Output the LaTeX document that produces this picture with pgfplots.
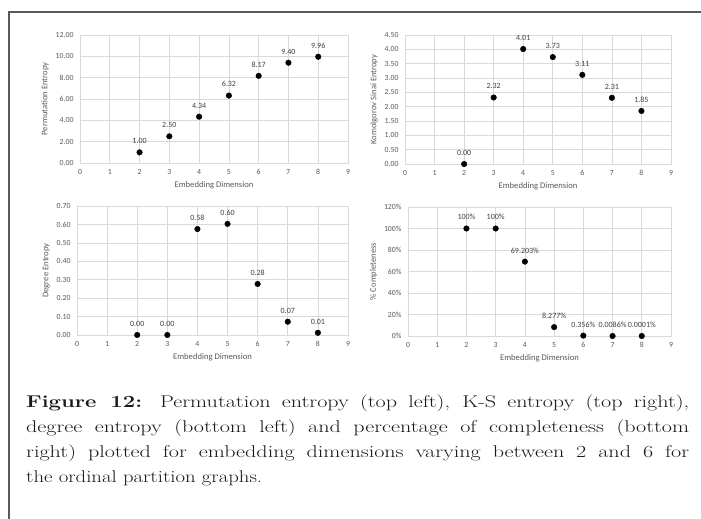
\documentclass[border=0pt]{standalone}
\usepackage{fontspec}
\usepackage{graphicx}
\usepackage{pgfplots}
\pgfplotsset{compat=1.18}

\newfontfamily\chartfont{Carlito}
\definecolor{gridc}{HTML}{D9D9D9}
\definecolor{labc}{HTML}{595959}
\definecolor{datac}{HTML}{404040}
\definecolor{framec}{HTML}{5A5A5A}

\pgfplotsset{
  excel/.style={
    scale only axis, anchor=south west,
    xmin=0, xmax=9, xtick={0,...,9},
    grid=major, grid style={draw=gridc, line width=0.7pt},
    axis line style={draw=gridc, line width=0.7pt},
    major tick length=0pt,
    tick label style={font=\chartfont\fontsize{7.8}{9}\selectfont, text=labc},
    /pgf/number format/assume math mode=true,
    xticklabel style={yshift=-3pt},
    yticklabel style={xshift=-3pt},
    label style={font=\chartfont\fontsize{8.6}{10}\selectfont, text=labc},
    xlabel={Embedding Dimension},
    clip=false,
    nodes near coords,
    point meta=explicit symbolic,
    every node near coord/.append style={font=\chartfont\fontsize{8}{9}\selectfont,
      text=datac, yshift=5pt},
  },
  dot/.style={only marks, mark=*, mark size=2.8pt, mark options={fill=black, draw=black}},
  twodec/.style={yticklabel style={/pgf/number format/.cd, fixed, fixed zerofill, precision=2}},
}

% caption lines: glyphs widened a little, spaces stretched to the full width
\newcommand\capline[1]{\scalebox{1.3}[1]{\makebox[510pt][s]{#1}}}

\begin{document}
\begin{tikzpicture}
\useasboundingbox (0pt,0pt) rectangle (701pt,519pt);
\draw[framec, line width=1.3pt] (9pt,-2pt) -- (9pt,507pt) -- (703pt,507pt);

% top left: permutation entropy
\begin{axis}[excel, twodec, at={(80pt,356pt)}, width=268pt, height=128pt,
    ymin=0, ymax=12, ytick={0,2,...,12}, ylabel={Permutation Entropy}]
\addplot[dot] coordinates {
(2,1.00) [1.00]
(3,2.50) [2.50]
(4,4.34) [4.34]
(5,6.32) [6.32]
(6,8.17) [8.17]
(7,9.40) [9.40]
(8,9.96) [9.96]
};
\end{axis}

% top right: K-S entropy
\begin{axis}[excel, twodec, at={(405pt,355pt)}, width=266pt, height=129pt,
    ymin=0, ymax=4.5, ytick={0,0.5,1,1.5,2,2.5,3,3.5,4,4.5},
    ylabel={Komolgorov Sinai Entropy}]
\addplot[dot] coordinates {
(2,0.00) [0.00]
(3,2.32) [2.32]
(4,4.01) [4.01]
(5,3.73) [3.73]
(6,3.11) [3.11]
(7,2.31) [2.31]
(8,1.85) [1.85]
};
\end{axis}

% bottom left: degree entropy
\begin{axis}[excel, twodec, at={(77pt,184pt)}, width=271pt, height=129pt,
    ymin=0, ymax=0.7, ytick={0,0.1,0.2,0.3,0.4,0.5,0.6,0.7},
    ylabel={Degree Entropy}]
\addplot[dot] coordinates {
(2,0.000) [0.00]
(3,0.000) [0.00]
(4,0.575) [0.58]
(5,0.603) [0.60]
(6,0.277) [0.28]
(7,0.072) [0.07]
(8,0.012) [0.01]
};
\end{axis}

% bottom right: completeness
\begin{axis}[excel, at={(408pt,183pt)}, width=263pt, height=129pt,
    ymin=0, ymax=120, ytick={0,20,...,120},
    yticklabels={0\%,20\%,40\%,60\%,80\%,100\%,120\%},
    ylabel={\% Completeness}]
\addplot[dot] coordinates {
(2,100) [100\%]
(3,100) [100\%]
(4,69.203) [69.203\%]
(5,8.277) [8.277\%]
(6,0.356) [0.356\%]
(7,0.0086) [0.0086\%]
(8,0.0001) [0.0001\%]
};
\end{axis}

% caption
\begin{scope}[every node/.style={anchor=base west, inner sep=0pt,
    font=\fontsize{17}{20}\selectfont, text=black!90}]
\node at (26pt,111pt) {\capline{\textbf{Figure 12:} Permutation entropy (top left), K-S entropy (top right),}};
\node at (26pt,86pt) {\capline{degree entropy (bottom left) and percentage of completeness (bottom}};
\node at (26pt,61pt) {\capline{right) plotted for embedding dimensions varying between 2 and 6 for}};
\node at (26pt,36pt) {\scalebox{1.22}[1]{the ordinal partition graphs.}};
\end{scope}
\end{tikzpicture}
\end{document}
